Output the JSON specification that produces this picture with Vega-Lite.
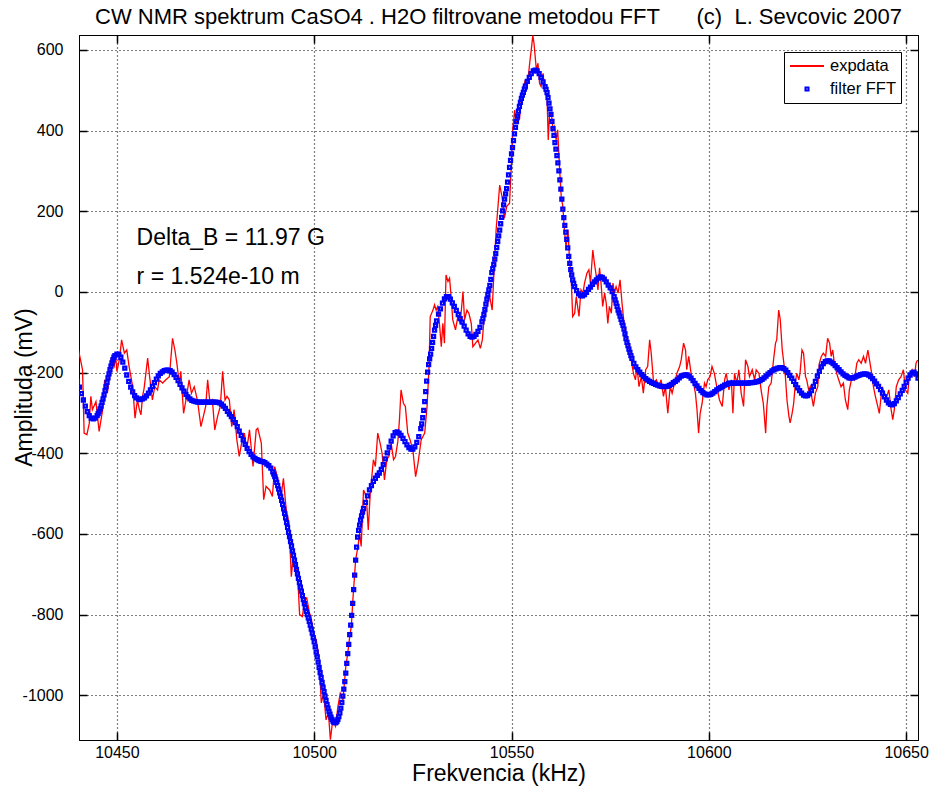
{
"$schema": "https://vega.github.io/schema/vega-lite/v6.json",
"width": 839, "height": 705,
"autosize": {"type": "none"},
"padding": {"left": 79, "top": 35, "right": 13, "bottom": 48},
"title": {"text": "CW NMR spektrum CaSO4 . H2O filtrovane metodou FFT\u00a0\u00a0\u00a0\u00a0\u00a0\u00a0(c)\u00a0\u00a0L. Sevcovic 2007", "font": "Liberation Sans", "fontSize": 22, "fontWeight": "normal", "color": "black", "anchor": "middle", "frame": "group", "offset": 5},
"datasets": {
"exp": [
{"f":10440.0,"v":-131},{"f":10441.3,"v":-193},{"f":10441.7,"v":-350},{"f":10442.4,"v":-354},{"f":10443.0,"v":-326},{"f":10443.4,"v":-259},{"f":10443.8,"v":-292},{"f":10444.7,"v":-272},{"f":10445.5,"v":-346},{"f":10446.4,"v":-292},{"f":10446.9,"v":-218},{"f":10447.6,"v":-251},{"f":10448.5,"v":-169},{"f":10449.3,"v":-185},{"f":10449.7,"v":-160},{"f":10450.0,"v":-197},{"f":10450.6,"v":-169},{"f":10451.2,"v":-119},{"f":10451.9,"v":-152},{"f":10452.5,"v":-144},{"f":10453.1,"v":-185},{"f":10454.0,"v":-235},{"f":10454.6,"v":-313},{"f":10455.2,"v":-268},{"f":10455.7,"v":-292},{"f":10456.1,"v":-305},{"f":10456.5,"v":-259},{"f":10456.9,"v":-239},{"f":10457.8,"v":-164},{"f":10458.2,"v":-202},{"f":10459.0,"v":-268},{"f":10459.6,"v":-235},{"f":10460.3,"v":-243},{"f":10460.7,"v":-218},{"f":10461.6,"v":-226},{"f":10462.4,"v":-218},{"f":10463.3,"v":-210},{"f":10464.1,"v":-115},{"f":10464.7,"v":-144},{"f":10465.2,"v":-177},{"f":10465.8,"v":-226},{"f":10466.2,"v":-197},{"f":10466.9,"v":-301},{"f":10467.5,"v":-268},{"f":10468.3,"v":-218},{"f":10468.9,"v":-251},{"f":10469.6,"v":-235},{"f":10470.4,"v":-268},{"f":10471.3,"v":-334},{"f":10471.9,"v":-309},{"f":10472.5,"v":-284},{"f":10473.0,"v":-218},{"f":10473.6,"v":-276},{"f":10474.2,"v":-268},{"f":10474.8,"v":-342},{"f":10475.5,"v":-309},{"f":10476.2,"v":-284},{"f":10476.8,"v":-197},{"f":10477.4,"v":-268},{"f":10477.9,"v":-259},{"f":10478.5,"v":-268},{"f":10479.1,"v":-334},{"f":10479.7,"v":-292},{"f":10480.4,"v":-367},{"f":10481.0,"v":-408},{"f":10481.6,"v":-375},{"f":10482.3,"v":-350},{"f":10482.9,"v":-392},{"f":10483.6,"v":-342},{"f":10484.5,"v":-433},{"f":10485.3,"v":-342},{"f":10485.7,"v":-338},{"f":10486.6,"v":-375},{"f":10487.2,"v":-515},{"f":10487.8,"v":-482},{"f":10488.7,"v":-491},{"f":10489.4,"v":-507},{"f":10490.0,"v":-433},{"f":10490.8,"v":-466},{"f":10491.6,"v":-507},{"f":10492.2,"v":-462},{"f":10492.9,"v":-540},{"f":10493.6,"v":-573},{"f":10494.2,"v":-706},{"f":10494.6,"v":-664},{"f":10495.3,"v":-672},{"f":10495.9,"v":-722},{"f":10496.3,"v":-800},{"f":10497.0,"v":-805},{"f":10497.6,"v":-763},{"f":10498.1,"v":-759},{"f":10498.8,"v":-796},{"f":10499.2,"v":-805},{"f":10499.8,"v":-846},{"f":10500.5,"v":-862},{"f":10501.2,"v":-904},{"f":10501.8,"v":-1019},{"f":10502.4,"v":-995},{"f":10503.0,"v":-1061},{"f":10503.6,"v":-1044},{"f":10504.1,"v":-1110},{"f":10504.7,"v":-1061},{"f":10505.4,"v":-1077},{"f":10506.0,"v":-1028},{"f":10506.6,"v":-995},{"f":10507.3,"v":-1011},{"f":10508.0,"v":-929},{"f":10508.5,"v":-896},{"f":10509.0,"v":-854},{"f":10509.4,"v":-830},{"f":10509.8,"v":-763},{"f":10510.5,"v":-664},{"f":10511.1,"v":-631},{"f":10511.5,"v":-598},{"f":10511.9,"v":-631},{"f":10512.5,"v":-491},{"f":10513.2,"v":-507},{"f":10513.7,"v":-590},{"f":10514.2,"v":-499},{"f":10515.0,"v":-416},{"f":10515.5,"v":-433},{"f":10516.1,"v":-350},{"f":10516.7,"v":-375},{"f":10517.2,"v":-400},{"f":10517.8,"v":-466},{"f":10518.4,"v":-416},{"f":10518.9,"v":-408},{"f":10519.5,"v":-375},{"f":10520.1,"v":-416},{"f":10520.6,"v":-408},{"f":10521.2,"v":-370},{"f":10521.6,"v":-317},{"f":10522.0,"v":-243},{"f":10522.6,"v":-276},{"f":10523.1,"v":-284},{"f":10523.7,"v":-350},{"f":10524.3,"v":-367},{"f":10525.0,"v":-392},{"f":10525.7,"v":-458},{"f":10526.3,"v":-425},{"f":10527.1,"v":-367},{"f":10528.0,"v":-350},{"f":10528.6,"v":-284},{"f":10529.1,"v":-185},{"f":10529.4,"v":-61},{"f":10530.1,"v":-45},{"f":10530.5,"v":-32},{"f":10530.9,"v":-45},{"f":10531.3,"v":-36},{"f":10531.8,"v":-86},{"f":10532.2,"v":-136},{"f":10532.6,"v":-78},{"f":10533.0,"v":-127},{"f":10533.4,"v":42},{"f":10533.9,"v":26},{"f":10534.3,"v":34},{"f":10534.7,"v":-12},{"f":10535.1,"v":-69},{"f":10535.8,"v":-94},{"f":10536.4,"v":-61},{"f":10537.0,"v":-78},{"f":10537.7,"v":1},{"f":10538.1,"v":-69},{"f":10538.7,"v":-45},{"f":10539.2,"v":-53},{"f":10539.8,"v":-78},{"f":10540.2,"v":-136},{"f":10540.9,"v":-127},{"f":10541.5,"v":-119},{"f":10542.1,"v":-140},{"f":10542.6,"v":-119},{"f":10543.2,"v":-49},{"f":10543.8,"v":-36},{"f":10544.4,"v":-8},{"f":10545.1,"v":-45},{"f":10545.7,"v":80},{"f":10546.1,"v":154},{"f":10547.0,"v":265},{"f":10547.6,"v":236},{"f":10548.2,"v":183},{"f":10548.8,"v":212},{"f":10549.5,"v":220},{"f":10549.9,"v":302},{"f":10550.3,"v":402},{"f":10550.8,"v":451},{"f":10551.2,"v":418},{"f":10551.6,"v":435},{"f":10552.0,"v":426},{"f":10552.5,"v":484},{"f":10553.0,"v":509},{"f":10553.5,"v":525},{"f":10553.9,"v":501},{"f":10554.6,"v":567},{"f":10555.0,"v":600},{"f":10555.4,"v":636},{"f":10555.7,"v":616},{"f":10556.0,"v":583},{"f":10556.3,"v":550},{"f":10556.7,"v":567},{"f":10557.1,"v":517},{"f":10557.5,"v":509},{"f":10558.0,"v":542},{"f":10558.4,"v":501},{"f":10559.0,"v":484},{"f":10559.3,"v":377},{"f":10559.6,"v":435},{"f":10560.1,"v":443},{"f":10560.5,"v":402},{"f":10560.9,"v":410},{"f":10561.3,"v":377},{"f":10561.7,"v":402},{"f":10562.2,"v":302},{"f":10562.6,"v":236},{"f":10563.0,"v":212},{"f":10563.4,"v":154},{"f":10563.8,"v":112},{"f":10564.3,"v":154},{"f":10564.7,"v":79},{"f":10565.1,"v":38},{"f":10565.5,"v":-61},{"f":10566.0,"v":-53},{"f":10566.4,"v":-12},{"f":10567.1,"v":-61},{"f":10567.6,"v":5},{"f":10568.1,"v":-3},{"f":10568.5,"v":22},{"f":10569.1,"v":46},{"f":10569.6,"v":55},{"f":10570.0,"v":22},{"f":10570.6,"v":104},{"f":10571.0,"v":71},{"f":10571.5,"v":38},{"f":10571.9,"v":5},{"f":10572.3,"v":60},{"f":10572.7,"v":20},{"f":10573.1,"v":-36},{"f":10573.6,"v":-3},{"f":10574.0,"v":-28},{"f":10574.4,"v":-78},{"f":10574.8,"v":-36},{"f":10575.3,"v":-53},{"f":10575.7,"v":22},{"f":10576.1,"v":-3},{"f":10576.5,"v":13},{"f":10577.0,"v":-3},{"f":10577.5,"v":30},{"f":10578.0,"v":-28},{"f":10578.6,"v":-86},{"f":10579.2,"v":-119},{"f":10579.9,"v":-144},{"f":10580.3,"v":-168},{"f":10580.9,"v":-202},{"f":10581.4,"v":-218},{"f":10581.8,"v":-185},{"f":10582.3,"v":-235},{"f":10582.9,"v":-210},{"f":10583.4,"v":-251},{"f":10584.0,"v":-193},{"f":10584.5,"v":-185},{"f":10585.0,"v":-119},{"f":10585.4,"v":-152},{"f":10586.0,"v":-226},{"f":10586.7,"v":-218},{"f":10587.3,"v":-235},{"f":10587.9,"v":-218},{"f":10588.5,"v":-259},{"f":10589.0,"v":-235},{"f":10589.6,"v":-301},{"f":10590.2,"v":-235},{"f":10590.7,"v":-251},{"f":10591.3,"v":-226},{"f":10591.9,"v":-202},{"f":10592.6,"v":-185},{"f":10593.0,"v":-168},{"f":10593.6,"v":-127},{"f":10594.1,"v":-144},{"f":10594.4,"v":-193},{"f":10594.9,"v":-160},{"f":10595.5,"v":-202},{"f":10596.1,"v":-226},{"f":10596.6,"v":-251},{"f":10597.0,"v":-292},{"f":10597.4,"v":-350},{"f":10597.8,"v":-301},{"f":10598.3,"v":-276},{"f":10598.9,"v":-226},{"f":10599.3,"v":-235},{"f":10599.7,"v":-218},{"f":10600.3,"v":-210},{"f":10600.8,"v":-185},{"f":10601.4,"v":-202},{"f":10602.0,"v":-235},{"f":10602.7,"v":-268},{"f":10603.4,"v":-284},{"f":10604.0,"v":-218},{"f":10604.4,"v":-202},{"f":10605.1,"v":-243},{"f":10605.7,"v":-218},{"f":10606.1,"v":-301},{"f":10606.5,"v":-202},{"f":10607.1,"v":-226},{"f":10607.6,"v":-193},{"f":10608.2,"v":-251},{"f":10608.8,"v":-284},{"f":10609.3,"v":-168},{"f":10609.9,"v":-185},{"f":10610.3,"v":-210},{"f":10611.0,"v":-193},{"f":10611.6,"v":-218},{"f":10612.0,"v":-193},{"f":10612.7,"v":-202},{"f":10613.3,"v":-247},{"f":10613.8,"v":-276},{"f":10614.4,"v":-350},{"f":10614.7,"v":-284},{"f":10615.2,"v":-235},{"f":10615.8,"v":-226},{"f":10616.4,"v":-168},{"f":10616.9,"v":-127},{"f":10617.2,"v":-119},{"f":10617.7,"v":-45},{"f":10618.1,"v":-69},{"f":10618.6,"v":-144},{"f":10618.9,"v":-168},{"f":10619.4,"v":-210},{"f":10619.8,"v":-268},{"f":10620.3,"v":-309},{"f":10620.6,"v":-325},{"f":10621.1,"v":-301},{"f":10621.5,"v":-276},{"f":10622.0,"v":-218},{"f":10622.3,"v":-202},{"f":10622.8,"v":-218},{"f":10623.1,"v":-202},{"f":10623.6,"v":-144},{"f":10624.0,"v":-152},{"f":10624.5,"v":-210},{"f":10624.8,"v":-218},{"f":10625.3,"v":-243},{"f":10625.7,"v":-235},{"f":10626.2,"v":-268},{"f":10626.5,"v":-284},{"f":10627.0,"v":-251},{"f":10627.6,"v":-235},{"f":10628.0,"v":-177},{"f":10628.5,"v":-160},{"f":10629.0,"v":-152},{"f":10629.6,"v":-160},{"f":10630.1,"v":-115},{"f":10630.6,"v":-127},{"f":10631.0,"v":-160},{"f":10631.4,"v":-144},{"f":10631.8,"v":-177},{"f":10632.4,"v":-202},{"f":10632.9,"v":-218},{"f":10633.5,"v":-235},{"f":10634.1,"v":-226},{"f":10634.6,"v":-268},{"f":10635.2,"v":-292},{"f":10635.6,"v":-243},{"f":10636.3,"v":-210},{"f":10636.9,"v":-218},{"f":10637.5,"v":-177},{"f":10638.0,"v":-168},{"f":10638.6,"v":-177},{"f":10639.2,"v":-160},{"f":10639.7,"v":-177},{"f":10640.3,"v":-144},{"f":10640.7,"v":-168},{"f":10641.4,"v":-210},{"f":10641.7,"v":-235},{"f":10642.2,"v":-259},{"f":10642.8,"v":-284},{"f":10643.2,"v":-301},{"f":10643.9,"v":-235},{"f":10644.5,"v":-251},{"f":10645.1,"v":-259},{"f":10645.6,"v":-243},{"f":10646.2,"v":-292},{"f":10646.6,"v":-317},{"f":10647.0,"v":-292},{"f":10647.5,"v":-235},{"f":10648.1,"v":-218},{"f":10648.7,"v":-210},{"f":10649.3,"v":-193},{"f":10649.8,"v":-243},{"f":10650.4,"v":-251},{"f":10650.8,"v":-210},{"f":10651.5,"v":-193},{"f":10652.1,"v":-210},{"f":10652.5,"v":-177},{"f":10652.9,"v":-169}
],
"fft": [
{"f":10440,"v":-222},{"f":10440.5,"v":-236},{"f":10441,"v":-252},{"f":10441.5,"v":-268},{"f":10442,"v":-283},{"f":10442.5,"v":-297},{"f":10443,"v":-307},{"f":10443.5,"v":-313},{"f":10444,"v":-315},{"f":10444.5,"v":-313},{"f":10445,"v":-307},{"f":10445.25,"v":-302},{"f":10445.5,"v":-297},{"f":10445.75,"v":-290},{"f":10446,"v":-283},{"f":10446.25,"v":-274},{"f":10446.5,"v":-265},{"f":10446.75,"v":-255},{"f":10447,"v":-245},{"f":10447.25,"v":-235},{"f":10447.5,"v":-224},{"f":10447.75,"v":-213},{"f":10448,"v":-203},{"f":10448.25,"v":-193},{"f":10448.5,"v":-184},{"f":10448.75,"v":-176},{"f":10449,"v":-168},{"f":10449.25,"v":-162},{"f":10449.5,"v":-158},{"f":10450,"v":-154},{"f":10450.5,"v":-155},{"f":10451,"v":-162},{"f":10451.5,"v":-174},{"f":10452,"v":-189},{"f":10452.5,"v":-206},{"f":10453,"v":-222},{"f":10453.5,"v":-236},{"f":10454,"v":-248},{"f":10454.5,"v":-257},{"f":10455,"v":-263},{"f":10455.5,"v":-266},{"f":10456,"v":-267},{"f":10456.5,"v":-265},{"f":10457,"v":-263},{"f":10457.5,"v":-258},{"f":10458,"v":-251},{"f":10458.5,"v":-243},{"f":10459,"v":-234},{"f":10459.5,"v":-225},{"f":10460,"v":-216},{"f":10460.5,"v":-208},{"f":10461,"v":-202},{"f":10461.5,"v":-198},{"f":10462,"v":-195},{"f":10462.5,"v":-194},{"f":10463,"v":-194},{"f":10463.5,"v":-195},{"f":10464,"v":-199},{"f":10464.5,"v":-205},{"f":10465,"v":-212},{"f":10465.5,"v":-220},{"f":10466,"v":-229},{"f":10466.5,"v":-238},{"f":10467,"v":-246},{"f":10467.5,"v":-254},{"f":10468,"v":-260},{"f":10468.5,"v":-265},{"f":10469,"v":-269},{"f":10469.5,"v":-271},{"f":10470,"v":-272},{"f":10470.5,"v":-273},{"f":10471,"v":-273},{"f":10471.5,"v":-273},{"f":10472,"v":-273},{"f":10472.5,"v":-273},{"f":10473,"v":-273},{"f":10473.5,"v":-273},{"f":10474,"v":-273},{"f":10474.5,"v":-273},{"f":10475,"v":-273},{"f":10475.5,"v":-274},{"f":10476,"v":-275},{"f":10476.5,"v":-278},{"f":10477,"v":-283},{"f":10477.5,"v":-289},{"f":10478,"v":-296},{"f":10478.5,"v":-303},{"f":10479,"v":-309},{"f":10479.5,"v":-316},{"f":10480,"v":-324},{"f":10480.5,"v":-334},{"f":10481,"v":-345},{"f":10481.5,"v":-356},{"f":10482,"v":-367},{"f":10482.5,"v":-378},{"f":10483,"v":-388},{"f":10483.5,"v":-396},{"f":10484,"v":-403},{"f":10484.5,"v":-409},{"f":10485,"v":-413},{"f":10485.5,"v":-416},{"f":10486,"v":-418},{"f":10486.5,"v":-420},{"f":10487,"v":-421},{"f":10487.5,"v":-423},{"f":10488,"v":-427},{"f":10488.5,"v":-431},{"f":10489,"v":-437},
{"f":10489.5,"v":-446},{"f":10489.75,"v":-452},{"f":10490,"v":-458},{"f":10490.25,"v":-465},{"f":10490.5,"v":-472},{"f":10490.75,"v":-480},{"f":10491,"v":-489},{"f":10491.25,"v":-498},{"f":10491.5,"v":-507},{"f":10491.75,"v":-517},{"f":10492,"v":-527},{"f":10492.25,"v":-538},{"f":10492.5,"v":-549},{"f":10492.75,"v":-560},{"f":10493,"v":-572},{"f":10493.25,"v":-584},{"f":10493.5,"v":-596},{"f":10493.75,"v":-607},{"f":10494,"v":-619},{"f":10494.25,"v":-630},{"f":10494.5,"v":-642},{"f":10494.75,"v":-653},{"f":10495,"v":-665},{"f":10495.25,"v":-676},{"f":10495.5,"v":-688},{"f":10495.75,"v":-699},{"f":10496,"v":-710},{"f":10496.25,"v":-721},{"f":10496.5,"v":-732},{"f":10496.75,"v":-742},{"f":10497,"v":-753},{"f":10497.25,"v":-763},{"f":10497.5,"v":-773},{"f":10497.75,"v":-783},{"f":10498,"v":-792},{"f":10498.25,"v":-800},{"f":10498.5,"v":-808},{"f":10498.75,"v":-817},{"f":10499,"v":-826},{"f":10499.25,"v":-836},{"f":10499.5,"v":-846},{"f":10499.75,"v":-857},{"f":10500,"v":-868},{"f":10500.25,"v":-880},{"f":10500.5,"v":-893},{"f":10500.75,"v":-905},{"f":10501,"v":-918},{"f":10501.25,"v":-931},{"f":10501.5,"v":-944},{"f":10501.75,"v":-956},{"f":10502,"v":-968},{"f":10502.25,"v":-980},{"f":10502.5,"v":-991},{"f":10502.75,"v":-1002},{"f":10503,"v":-1013},{"f":10503.25,"v":-1023},{"f":10503.5,"v":-1032},{"f":10503.75,"v":-1040},{"f":10504,"v":-1047},{"f":10504.25,"v":-1054},{"f":10504.5,"v":-1060},{"f":10504.75,"v":-1064},{"f":10505,"v":-1067},{"f":10505.25,"v":-1068},{"f":10505.5,"v":-1068},{"f":10505.75,"v":-1065},{"f":10506,"v":-1060},{"f":10506.25,"v":-1053},{"f":10506.5,"v":-1044},{"f":10506.75,"v":-1032},{"f":10507,"v":-1018},{"f":10507.25,"v":-1002},{"f":10507.5,"v":-985},{"f":10507.75,"v":-966},{"f":10508,"v":-945},{"f":10508.25,"v":-921},{"f":10508.5,"v":-897},{"f":10508.75,"v":-874},{"f":10509,"v":-850},{"f":10509.25,"v":-826},{"f":10509.5,"v":-802},{"f":10509.75,"v":-772},{"f":10510,"v":-738},{"f":10510.25,"v":-702},{"f":10510.5,"v":-665},{"f":10510.75,"v":-633},{"f":10511,"v":-608},{"f":10511.25,"v":-591},{"f":10511.5,"v":-578},{"f":10511.75,"v":-566},{"f":10512,"v":-555},{"f":10512.25,"v":-546},{"f":10512.5,"v":-537},
{"f":10513,"v":-522},{"f":10513.5,"v":-506},{"f":10514,"v":-491},{"f":10514.5,"v":-480},{"f":10515,"v":-470},{"f":10515.5,"v":-462},{"f":10516,"v":-455},{"f":10516.5,"v":-449},{"f":10517,"v":-440},{"f":10517.5,"v":-428},{"f":10518,"v":-414},{"f":10518.5,"v":-399},{"f":10519,"v":-385},{"f":10519.5,"v":-370},{"f":10520,"v":-357},{"f":10520.5,"v":-349},{"f":10521,"v":-347},{"f":10521.5,"v":-350},{"f":10522,"v":-356},{"f":10522.5,"v":-363},{"f":10523,"v":-371},{"f":10523.5,"v":-379},{"f":10524,"v":-386},{"f":10524.5,"v":-390},{"f":10525,"v":-390},{"f":10525.5,"v":-384},{"f":10526,"v":-373},{"f":10526.5,"v":-359},
{"f":10527,"v":-339},{"f":10527.25,"v":-327},{"f":10527.5,"v":-312},{"f":10527.75,"v":-294},{"f":10528,"v":-272},{"f":10528.25,"v":-247},{"f":10528.5,"v":-221},{"f":10528.75,"v":-199},{"f":10529,"v":-180},{"f":10529.25,"v":-166},{"f":10529.5,"v":-154},{"f":10529.75,"v":-140},{"f":10530,"v":-125},{"f":10530.25,"v":-110},{"f":10530.5,"v":-95},{"f":10530.75,"v":-83},{"f":10531,"v":-72},
{"f":10531.5,"v":-55},{"f":10532,"v":-42},{"f":10532.5,"v":-28},{"f":10533,"v":-17},{"f":10533.5,"v":-12},{"f":10534,"v":-12},{"f":10534.5,"v":-18},{"f":10535,"v":-27},{"f":10535.5,"v":-36},{"f":10536,"v":-46},{"f":10536.5,"v":-56},{"f":10537,"v":-66},{"f":10537.5,"v":-75},{"f":10538,"v":-85},{"f":10538.5,"v":-95},{"f":10539,"v":-104},{"f":10539.5,"v":-110},{"f":10540,"v":-112},{"f":10540.5,"v":-110},{"f":10541,"v":-105},{"f":10541.5,"v":-98},{"f":10542,"v":-88},
{"f":10542.5,"v":-74},{"f":10542.75,"v":-66},{"f":10543,"v":-56},{"f":10543.25,"v":-44},{"f":10543.5,"v":-30},{"f":10543.75,"v":-18},{"f":10544,"v":-6},{"f":10544.25,"v":5},{"f":10544.5,"v":16},{"f":10544.75,"v":31},{"f":10545,"v":48},{"f":10545.25,"v":58},{"f":10545.5,"v":68},{"f":10545.75,"v":81},{"f":10546,"v":95},{"f":10546.25,"v":110},{"f":10546.5,"v":125},{"f":10546.75,"v":139},{"f":10547,"v":153},{"f":10547.25,"v":169},{"f":10547.5,"v":185},{"f":10547.75,"v":201},{"f":10548,"v":216},{"f":10548.25,"v":230},{"f":10548.5,"v":243},{"f":10548.75,"v":256},{"f":10549,"v":272},{"f":10549.25,"v":290},{"f":10549.5,"v":309},{"f":10549.75,"v":326},{"f":10550,"v":342},{"f":10550.25,"v":358},{"f":10550.5,"v":375},{"f":10550.75,"v":392},{"f":10551,"v":408},{"f":10551.25,"v":422},{"f":10551.5,"v":436},{"f":10551.75,"v":448},{"f":10552,"v":460},{"f":10552.25,"v":470},{"f":10552.5,"v":480},{"f":10552.75,"v":488},{"f":10553,"v":495},{"f":10553.25,"v":503},{"f":10553.5,"v":510},
{"f":10554,"v":522},{"f":10554.5,"v":532},{"f":10555,"v":541},{"f":10555.5,"v":548},{"f":10556,"v":550},{"f":10556.5,"v":548},{"f":10557,"v":541},{"f":10557.5,"v":532},{"f":10558,"v":521},{"f":10558.5,"v":509},
{"f":10558.75,"v":502},{"f":10559,"v":494},{"f":10559.25,"v":482},{"f":10559.5,"v":468},{"f":10559.75,"v":454},{"f":10560,"v":440},{"f":10560.25,"v":423},{"f":10560.5,"v":405},{"f":10560.75,"v":388},{"f":10561,"v":370},{"f":10561.25,"v":354},{"f":10561.5,"v":338},{"f":10561.75,"v":320},{"f":10562,"v":300},{"f":10562.25,"v":278},{"f":10562.5,"v":255},{"f":10562.75,"v":230},{"f":10563,"v":205},{"f":10563.25,"v":184},{"f":10563.5,"v":165},{"f":10563.75,"v":148},{"f":10564,"v":130},{"f":10564.25,"v":109},{"f":10564.5,"v":88},{"f":10564.75,"v":71},{"f":10565,"v":55},{"f":10565.25,"v":42},{"f":10565.5,"v":30},{"f":10565.75,"v":21},{"f":10566,"v":13},
{"f":10566.5,"v":3},{"f":10567,"v":-5},{"f":10567.5,"v":-9},{"f":10568,"v":-10},{"f":10568.5,"v":-7},{"f":10569,"v":-1},{"f":10569.5,"v":6},{"f":10570,"v":12},{"f":10570.5,"v":19},{"f":10571,"v":25},{"f":10571.5,"v":30},{"f":10572,"v":34},{"f":10572.5,"v":37},{"f":10573,"v":36},{"f":10573.5,"v":32},{"f":10574,"v":25},{"f":10574.5,"v":17},{"f":10575,"v":10},{"f":10575.5,"v":1},
{"f":10576,"v":-12},{"f":10576.25,"v":-20},{"f":10576.5,"v":-28},{"f":10576.75,"v":-36},{"f":10577,"v":-45},{"f":10577.25,"v":-52},{"f":10577.5,"v":-60},{"f":10577.75,"v":-68},{"f":10578,"v":-76},{"f":10578.25,"v":-83},{"f":10578.5,"v":-92},{"f":10578.75,"v":-104},{"f":10579,"v":-116},{"f":10579.25,"v":-125},{"f":10579.5,"v":-133},{"f":10579.75,"v":-142},{"f":10580,"v":-150},{"f":10580.25,"v":-158},{"f":10580.5,"v":-165},
{"f":10581,"v":-177},{"f":10581.5,"v":-186},{"f":10582,"v":-193},{"f":10582.5,"v":-199},{"f":10583,"v":-205},{"f":10583.5,"v":-210},{"f":10584,"v":-215},{"f":10584.5,"v":-219},{"f":10585,"v":-222},{"f":10585.5,"v":-225},{"f":10586,"v":-227},{"f":10586.5,"v":-229},{"f":10587,"v":-231},{"f":10587.5,"v":-233},{"f":10588,"v":-234},{"f":10588.5,"v":-235},{"f":10589,"v":-235},{"f":10589.5,"v":-234},{"f":10590,"v":-232},{"f":10590.5,"v":-229},{"f":10591,"v":-225},{"f":10591.5,"v":-222},{"f":10592,"v":-218},{"f":10592.5,"v":-213},{"f":10593,"v":-209},{"f":10593.5,"v":-207},{"f":10594,"v":-206},{"f":10594.5,"v":-206},{"f":10595,"v":-209},{"f":10595.5,"v":-214},{"f":10596,"v":-220},{"f":10596.5,"v":-227},{"f":10597,"v":-233},{"f":10597.5,"v":-239},{"f":10598,"v":-245},{"f":10598.5,"v":-250},{"f":10599,"v":-253},{"f":10599.5,"v":-255},{"f":10600,"v":-255},{"f":10600.5,"v":-254},{"f":10601,"v":-251},{"f":10601.5,"v":-247},{"f":10602,"v":-243},{"f":10602.5,"v":-240},{"f":10603,"v":-237},{"f":10603.5,"v":-234},{"f":10604,"v":-231},{"f":10604.5,"v":-229},{"f":10605,"v":-227},{"f":10605.5,"v":-226},{"f":10606,"v":-226},{"f":10606.5,"v":-226},{"f":10607,"v":-226},{"f":10607.5,"v":-226},{"f":10608,"v":-226},{"f":10608.5,"v":-226},{"f":10609,"v":-226},{"f":10609.5,"v":-226},{"f":10610,"v":-226},{"f":10610.5,"v":-225},{"f":10611,"v":-225},{"f":10611.5,"v":-224},{"f":10612,"v":-223},{"f":10612.5,"v":-222},{"f":10613,"v":-220},{"f":10613.5,"v":-217},{"f":10614,"v":-213},{"f":10614.5,"v":-209},{"f":10615,"v":-204},{"f":10615.5,"v":-200},{"f":10616,"v":-196},{"f":10616.5,"v":-193},{"f":10617,"v":-191},{"f":10617.5,"v":-189},{"f":10618,"v":-188},{"f":10618.5,"v":-188},{"f":10619,"v":-190},{"f":10619.5,"v":-194},{"f":10620,"v":-200},{"f":10620.5,"v":-207},{"f":10621,"v":-214},{"f":10621.5,"v":-222},{"f":10622,"v":-230},{"f":10622.5,"v":-238},{"f":10623,"v":-245},{"f":10623.5,"v":-251},{"f":10624,"v":-256},{"f":10624.5,"v":-258},{"f":10625,"v":-257},{"f":10625.5,"v":-253},{"f":10626,"v":-245},{"f":10626.5,"v":-234},{"f":10627,"v":-222},{"f":10627.5,"v":-209},{"f":10628,"v":-197},{"f":10628.5,"v":-186},{"f":10629,"v":-178},{"f":10629.5,"v":-173},{"f":10630,"v":-171},{"f":10630.5,"v":-171},{"f":10631,"v":-174},{"f":10631.5,"v":-178},{"f":10632,"v":-183},{"f":10632.5,"v":-188},{"f":10633,"v":-193},{"f":10633.5,"v":-198},{"f":10634,"v":-203},{"f":10634.5,"v":-207},{"f":10635,"v":-210},{"f":10635.5,"v":-213},{"f":10636,"v":-214},{"f":10636.5,"v":-213},{"f":10637,"v":-211},{"f":10637.5,"v":-209},{"f":10638,"v":-207},{"f":10638.5,"v":-205},{"f":10639,"v":-204},{"f":10639.5,"v":-203},{"f":10640,"v":-204},{"f":10640.5,"v":-206},{"f":10641,"v":-210},{"f":10641.5,"v":-215},{"f":10642,"v":-221},{"f":10642.5,"v":-228},{"f":10643,"v":-234},{"f":10643.5,"v":-242},{"f":10644,"v":-251},{"f":10644.5,"v":-260},{"f":10645,"v":-268},{"f":10645.5,"v":-275},{"f":10646,"v":-279},{"f":10646.5,"v":-280},{"f":10647,"v":-277},{"f":10647.5,"v":-270},{"f":10648,"v":-262},{"f":10648.5,"v":-253},{"f":10649,"v":-244},{"f":10649.5,"v":-234},{"f":10650,"v":-224},{"f":10650.5,"v":-214},{"f":10651,"v":-206},{"f":10651.5,"v":-201},{"f":10652,"v":-199},{"f":10652.5,"v":-203},{"f":10653,"v":-214}
],
"ann": [
{"f":10455.0,"v":134,"t":"Delta_B = 11.97 G"},
{"f":10455.0,"v":37,"t":"r = 1.524e-10 m"}
]
},
"layer": [
{
"data": {"name": "exp"},
"mark": {"type": "line", "strokeWidth": 1.3, "clip": true},
"encoding": {
"x": {"field": "f", "type": "quantitative", "scale": {"domain": [10440.4, 10653], "nice": false, "zero": false},
"axis": {"orient": "bottom", "values": [10450, 10500, 10550, 10600, 10650], "labelExpr": "datum.value + ''", "title": "Frekvencia (kHz)", "grid": true, "gridDash": [1, 3], "gridColor": "black", "gridOpacity": 1, "gridWidth": 1.2, "tickSize": -8, "tickColor": "black", "tickWidth": 1.5, "domainColor": "black", "domainWidth": 1, "labelColor": "black", "labelFont": "Liberation Sans", "labelFontSize": 16, "labelPadding": 12, "titleFont": "Liberation Sans", "titleFontSize": 23, "titleFontWeight": "normal", "titleColor": "black", "titleY": 33, "titleBaseline": "middle"}},
"y": {"field": "v", "type": "quantitative", "scale": {"domain": [-1111, 637], "nice": false, "zero": false},
"axis": {"orient": "left", "values": [-1000, -800, -600, -400, -200, 0, 200, 400, 600], "labelExpr": "datum.value + ''", "title": "Amplituda (mV)", "grid": true, "gridDash": [1, 3], "gridColor": "black", "gridOpacity": 1, "gridWidth": 1.2, "tickSize": -8, "tickColor": "black", "tickWidth": 1.5, "domainColor": "black", "domainWidth": 1, "labelColor": "black", "labelFont": "Liberation Sans", "labelFontSize": 16, "labelPadding": 24, "titleFont": "Liberation Sans", "titleFontSize": 23, "titleFontWeight": "normal", "titleColor": "black", "titleX": -55, "titleY": 352, "titleAngle": 270, "titleAlign": "center", "titleBaseline": "middle"}},
"color": {"datum": "expdata", "type": "nominal", "scale": {"domain": ["expdata", "filter FFT"], "range": ["#ff0000", "#0000ff"]},
"legend": {"title": null, "orient": "top-right", "offset": 17, "padding": 5, "clipHeight": 18, "rowPadding": 5, "labelFont": "Liberation Sans", "labelFontSize": 16.5, "labelColor": "black", "labelOffset": 5, "strokeColor": "black", "fillColor": "white", "symbolSize": 1156, "symbolStrokeWidth": 2}}
}
},
{
"data": {"name": "fft"},
"mark": {"type": "point", "filled": false, "size": 1156, "strokeWidth": 2.2, "opacity": 1, "clip": true},
"encoding": {
"x": {"field": "f", "type": "quantitative", "axis": {"orient": "top", "values": [10450, 10500, 10550, 10600, 10650], "labels": false, "grid": false, "title": null, "tickSize": -8, "tickColor": "black", "tickWidth": 1.5, "domainColor": "black"}},
"y": {"field": "v", "type": "quantitative", "axis": {"orient": "right", "values": [-1000, -800, -600, -400, -200, 0, 200, 400, 600], "labels": false, "grid": false, "title": null, "tickSize": -8, "tickColor": "black", "tickWidth": 1.5, "domainColor": "black"}},
"color": {"datum": "filter FFT", "type": "nominal"},
"shape": {"datum": "filter FFT", "type": "nominal", "scale": {"domain": ["expdata", "filter FFT"], "range": ["M-1,0H1", "M-0.09,-0.09H0.09V0.09H-0.09Z"]}}
}
},
{
"data": {"name": "ann"},
"mark": {"type": "text", "align": "left", "baseline": "middle", "font": "Liberation Sans", "fontSize": 23, "color": "black"},
"encoding": {
"x": {"field": "f", "type": "quantitative", "axis": null},
"y": {"field": "v", "type": "quantitative", "axis": null},
"text": {"field": "t"}
}
}
],
"config": {
"view": {"stroke": "black", "strokeWidth": 1},
"font": "Liberation Sans",
"background": "white"
}
}
